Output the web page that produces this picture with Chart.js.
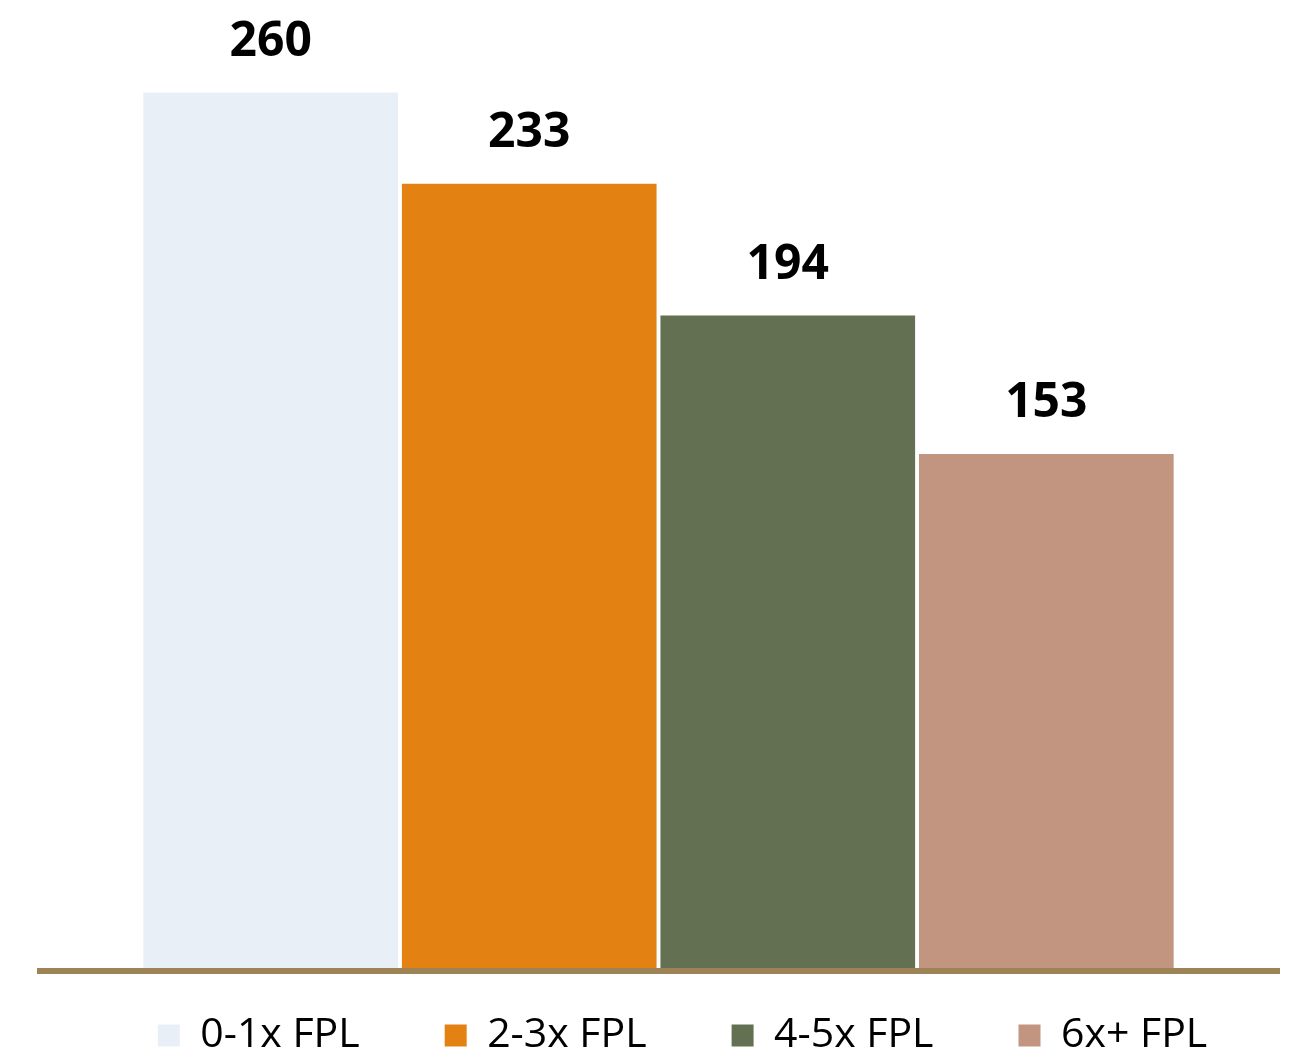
<!DOCTYPE html>
<html>
<head>
<meta charset="utf-8">
<title>FPL chart</title>
<script src="https://cdn.jsdelivr.net/npm/chart.js@4/dist/chart.umd.min.js"></script>
<style>
    body { margin: 0; background: #fff; }
    #wrap { width: 1292px; height: 1057px; position: relative; }
</style>
</head>
<body>
<div id="wrap"><canvas id="fplChart"></canvas></div>
<script>
const seriesNames = ['0-1x FPL', '2-3x FPL', '4-5x FPL', '6x+ FPL'];
const seriesValues = [260, 233, 194, 153];
const seriesColors = ['#E9EFF7', '#E38213', '#637152', '#C29580'];
const baseColor = '#9E8357';

const LEGEND_PAD = 85;
const LEGEND_FONT = 41;

// value above each bar
const valueLabels = {
    id: 'valueLabels',
    afterDatasetsDraw(chart) {
        const ctx = chart.ctx;
        ctx.save();
        ctx.font = 'bold 48px "Open Sans"';
        ctx.fillStyle = '#000';
        ctx.textAlign = 'center';
        ctx.textBaseline = 'alphabetic';
        chart.data.datasets.forEach((ds, i) => {
            const bar = chart.getDatasetMeta(i).data[0];
            ctx.fillText(ds.data[0], bar.x, bar.y - 37);
        });
        ctx.restore();
    }
};

// legend needs wide gaps between items but sits close under the axis
const legendShift = {
    id: 'legendShift',
    afterLayout(chart) {
        const lg = chart.legend;
        if (!lg) return;
        const dy = (1015 - LEGEND_PAD) - lg.top;
        lg.top += dy;
        lg.bottom += dy;
        lg.left += 24;
        lg.right += 24;
    }
};

const legendHeight = LEGEND_FONT + LEGEND_PAD + 10;

const ctx = document.getElementById('fplChart').getContext('2d');

new Chart(ctx, {
    type: 'bar',
    data: {
        labels: [''],
        datasets: seriesNames.map((name, i) => ({
            label: name,
            data: [seriesValues[i]],
            backgroundColor: seriesColors[i],
            borderWidth: 0,
            categoryPercentage: 0.832,
            barPercentage: 0.985
        }))
    },
    options: {
        responsive: true,
        maintainAspectRatio: false,
        animation: false,
        layout: {
            padding: { left: 37, right: 12, top: 25, bottom: 1057 - 971 - legendHeight }
        },
        plugins: {
            tooltip: { enabled: false },
            legend: {
                position: 'bottom',
                labels: {
                    color: '#000',
                    font: { family: 'Open Sans', size: LEGEND_FONT },
                    boxWidth: 22,
                    boxHeight: 22,
                    padding: LEGEND_PAD
                }
            }
        },
        scales: {
            x: { display: false },
            y: {
                min: 0,
                max: 280,
                ticks: { display: false, stepSize: 20 },
                border: { display: false },
                grid: {
                    z: 1,
                    drawTicks: false,
                    lineWidth: 6,
                    color: c => (c.tick && c.tick.value === 0) ? baseColor : 'rgba(0,0,0,0)'
                }
            }
        }
    },
    plugins: [valueLabels, legendShift]
});
</script>
</body>
</html>
